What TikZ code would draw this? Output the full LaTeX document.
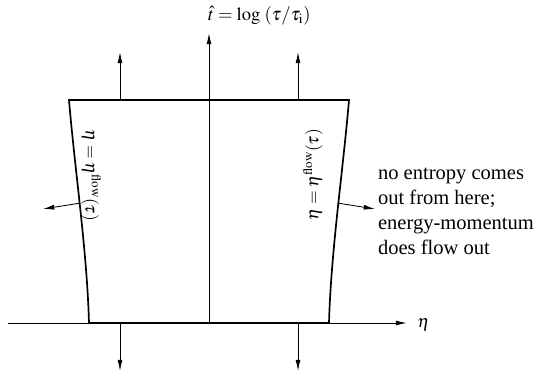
\documentclass[tikz,border=0pt]{standalone}
\usepackage{mathptmx}
\usepackage{fontspec}
\setmainfont{Liberation Serif}
\usetikzlibrary{arrows.meta}

\begin{document}
\begin{tikzpicture}[
  wall/.style={line width=1.2pt},
  axis/.style={-{Latex[length=8pt,width=3.5pt]}, line width=0.7pt},
  flux/.style={-{Latex[length=8pt,width=3.5pt]}, line width=0.6pt},
  lbl/.style={font=\fontsize{14.6}{17.8}\selectfont, inner sep=0pt},
  mlbl/.style={font=\fontsize{12.5}{14}\selectfont, inner sep=0pt}
]
\useasboundingbox (-5.225,-1.275) rectangle (8.15,8.075);
% axes
\coordinate (o) at (0,0);
\coordinate (west) at (-5.025,0);
\coordinate (east) at (4.95,0);
\coordinate (top) at (0,7.25);
\draw[axis] (west) -- (east);
\draw[axis] (o) -- (top);
\node[mlbl, anchor=west] (eta) at (5.2,-0.05) {$\eta$};
\node[mlbl, font=\fontsize{13.2}{15}\selectfont, anchor=south west] (time) at (-0.03,7.45) {$\hat{t} = \log\;(\tau/\tau_{\mathrm{i}})$};
% flow region
\coordinate (tl) at (-3.5,5.575);
\coordinate (tr) at (3.5,5.575);
\coordinate (bl) at (-3.0,0);
\coordinate (br) at (3.0,0);
\draw[wall] (tl) .. controls (-3.35,3.8) and (-3.05,1.8) .. coordinate[pos=0.465] (lm) (bl)
  -- (br) .. controls (3.05,1.8) and (3.35,3.8) .. coordinate[pos=0.535] (rm) (tr) -- cycle;
\node[mlbl, rotate=-90] (lflow) at (-2.95,3.7) {$\eta = \eta^{\mathrm{flow}}(\tau)$};
\node[mlbl, rotate=90] (rflow) at (2.6,3.7) {$\eta = \eta^{\mathrm{flow}}(\tau)$};
% outflow
\coordinate (lout) at (-4.15,2.85);
\coordinate (rout) at (4.15,2.85);
\draw[flux] (lm) -- (lout);
\draw[flux] (rm) -- (rout);
\foreach \x in {-2.225,2.225} {
  \draw[flux] (\x,5.575) -- (\x,6.775);
  \draw[flux] (\x,0) -- (\x,-1.2);
}
\node[lbl, anchor=west, align=left] (note) at (4.22,2.8) {no entropy comes\\out from here;\\energy-momentum\\does flow out};
\end{tikzpicture}
\end{document}
